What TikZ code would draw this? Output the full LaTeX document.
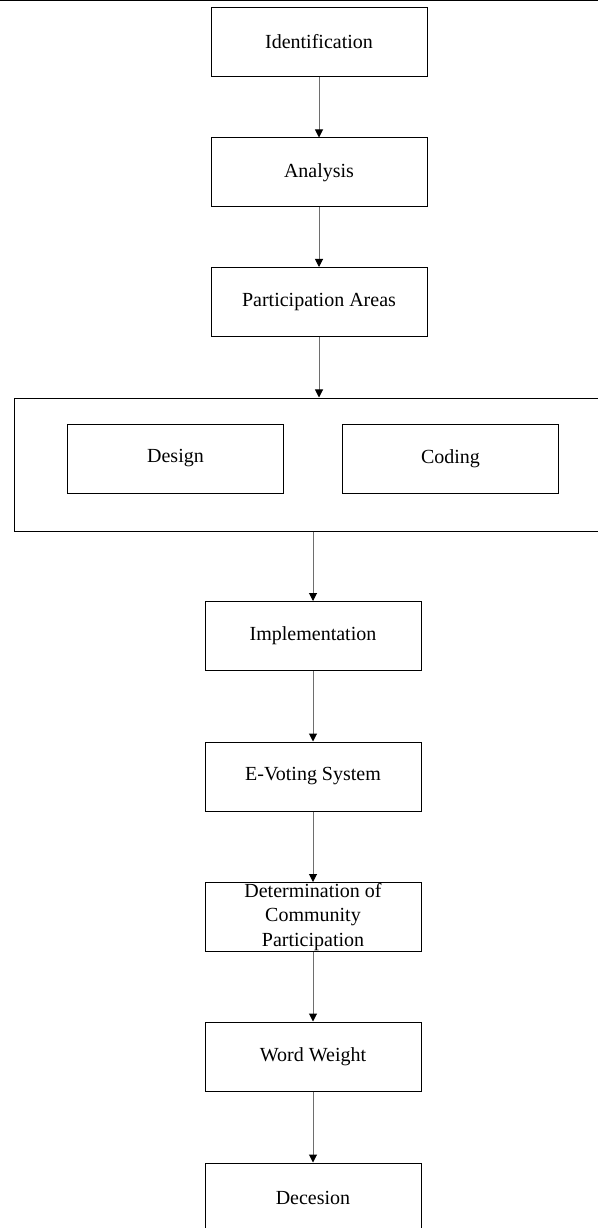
\documentclass[tikz,border=0pt]{standalone}
\usepackage{fontspec}
\setmainfont{Liberation Serif}
\usepackage{tikz}
\usetikzlibrary{positioning, calc, arrows.meta}
\definecolor{color0}{RGB}{110,110,110}

\begin{document}
\begin{tikzpicture}[x=0.6pt, y=-0.6pt]
	\tikzstyle{stage}=[rectangle, draw=black, line width=0.6pt, minimum width=129.6pt, minimum height=41.4pt, inner sep=0pt, align=center, font=\fontsize{12}{14.6}\selectfont]
	\tikzstyle{flow}=[color0, line width=0.6pt, -{Triangle[length=4.8pt, width=4.8pt, color=black]}]

	\clip (0,0) rectangle (598,1228);
	\draw[line width=0.9pt] (0,0.75) -- (598,0.75);

	\node[stage] (ident) at (319, 42) {Identification};
	\node[stage] (analysis) at (319, 172.5) {Analysis};
	\node[stage] (areas) at (319, 302) {Participation Areas};

	\node[stage, minimum width=366pt, minimum height=79.8pt] (group) at (319, 464.5) {};
	\node[stage] (design) at (175.5, 458.5) {Design};
	\node[stage] (coding) at (450.5, 458.5) {Coding};

	\node[stage] (impl) at (313, 636) {Implementation};
	\node[stage] (evoting) at (313, 776.5) {E-Voting System};
	\node[stage] (determ) at (313, 917) {Determination of\\Community\\Participation};
	\node[stage] (weight) at (313, 1056.5) {Word Weight};
	\node[stage] (decision) at (313, 1197.5) {Decesion};

	\foreach \a/\b in {ident/analysis, analysis/areas, areas/group, impl/evoting, evoting/determ, determ/weight, weight/decision}{
		\draw[flow] (\a) -- (\b);
	}
	\draw[flow] (group.south -| impl.north) -- (impl.north);
\end{tikzpicture}
\end{document}
